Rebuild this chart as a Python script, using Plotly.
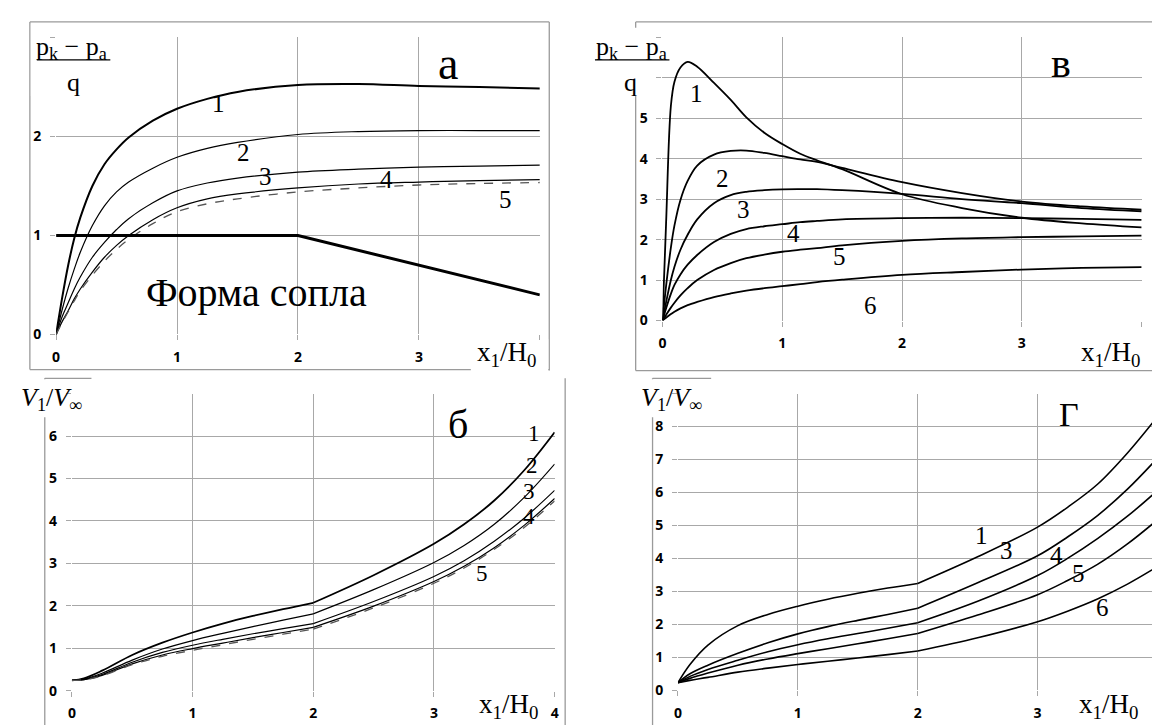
import plotly.graph_objects as go

W, H = 1160, 726

# ---------------- data ----------------
# Panel "а": pressure, 5 curves + nozzle shape
XA = [0, 0.05, 0.1, 0.15, 0.2, 0.3, 0.4, 0.5, 0.6, 0.8, 1, 1.25, 1.5, 2, 2.5, 3, 3.5, 4]
A1 = [0, 0.37, 0.7, 0.97, 1.18, 1.5, 1.72, 1.87, 1.99, 2.16, 2.28, 2.38, 2.45, 2.52, 2.53, 2.51, 2.5, 2.485]
A2 = [0, 0.25, 0.47, 0.66, 0.83, 1.1, 1.3, 1.44, 1.54, 1.68, 1.79, 1.88, 1.94, 2.02, 2.05, 2.06, 2.06, 2.06]
A3 = [0, 0.18, 0.32, 0.46, 0.58, 0.78, 0.93, 1.06, 1.17, 1.33, 1.45, 1.53, 1.58, 1.64, 1.67, 1.69, 1.70, 1.71]
A4 = [0, 0.13, 0.24, 0.36, 0.46, 0.63, 0.78, 0.9, 1.0, 1.16, 1.28, 1.37, 1.42, 1.48, 1.52, 1.54, 1.555, 1.565]
A5 = [0, 0.12, 0.23, 0.34, 0.44, 0.6, 0.74, 0.86, 0.96, 1.12, 1.24, 1.32, 1.37, 1.44, 1.48, 1.51, 1.525, 1.535]
NOZZLE_X = [0, 2, 4]
NOZZLE_Y = [1, 1, 0.4]

# Panel "в": pressure, 6 curves
XV = [0, 0.03, 0.07, 0.1, 0.15, 0.21, 0.29, 0.43, 0.57, 0.7, 0.85, 1.0, 1.15, 1.29, 1.5, 2, 2.5, 3, 3.5, 4]
V1 = [0, 2.4, 5.3, 5.9, 6.25, 6.39, 6.27, 5.87, 5.45, 5.02, 4.64, 4.36, 4.12, 3.96, 3.74, 3.12, 2.78, 2.54, 2.4, 2.3]
V2 = [0, 0.85, 1.8, 2.35, 2.98, 3.45, 3.83, 4.1, 4.19, 4.2, 4.14, 4.06, 3.98, 3.92, 3.77, 3.42, 3.15, 2.94, 2.82, 2.74]
V3 = [0, 0.45, 1.0, 1.33, 1.75, 2.12, 2.5, 2.9, 3.1, 3.18, 3.22, 3.24, 3.245, 3.245, 3.22, 3.13, 3.0, 2.9, 2.78, 2.7]
V4 = [0, 0.3, 0.66, 0.88, 1.14, 1.38, 1.62, 1.94, 2.14, 2.26, 2.33, 2.38, 2.43, 2.46, 2.5, 2.53, 2.54, 2.53, 2.51, 2.485]
V5 = [0, 0.14, 0.32, 0.44, 0.62, 0.8, 1.0, 1.25, 1.42, 1.54, 1.63, 1.7, 1.75, 1.79, 1.86, 1.97, 2.03, 2.06, 2.08, 2.1]
V6 = [0, 0.07, 0.16, 0.22, 0.3, 0.38, 0.46, 0.58, 0.67, 0.74, 0.8, 0.85, 0.9, 0.95, 1.01, 1.13, 1.2, 1.26, 1.3, 1.32]

# Panel "б": velocity, 5 curves (two segments, kink at x=2)
XB1 = [0, 0.1, 0.25, 0.5, 0.75, 1, 1.25, 1.5, 1.75, 2]
XB2 = [2, 2.5, 3, 3.25, 3.5, 3.75, 4]
B1a = [0.24, 0.29, 0.47, 0.84, 1.13, 1.37, 1.58, 1.76, 1.92, 2.07]
B1b = [2.07, 2.72, 3.46, 3.92, 4.48, 5.2, 6.09]
B2a = [0.24, 0.27, 0.41, 0.72, 0.98, 1.18, 1.35, 1.51, 1.66, 1.81]
B2b = [1.81, 2.38, 3.02, 3.42, 3.92, 4.56, 5.34]
B3a = [0.24, 0.26, 0.38, 0.67, 0.9, 1.07, 1.21, 1.34, 1.46, 1.58]
B3b = [1.58, 2.1, 2.69, 3.06, 3.52, 4.07, 4.72]
B4a = [0.24, 0.26, 0.36, 0.63, 0.84, 0.99, 1.12, 1.25, 1.37, 1.49]
B4b = [1.49, 1.99, 2.57, 2.93, 3.37, 3.9, 4.53]
B5a = [0.24, 0.255, 0.35, 0.61, 0.81, 0.95, 1.08, 1.21, 1.33, 1.45]
B5b = [1.45, 1.95, 2.53, 2.89, 3.33, 3.85, 4.47]

# Panel "Г": velocity, 5 curves (two segments, kink at x=2)
XG1 = [0, 0.1, 0.25, 0.5, 0.75, 1, 1.25, 1.5, 1.75, 2]
XG2 = [2, 2.5, 3, 3.25, 3.5, 3.75, 4]
G1a = [0.23, 0.78, 1.37, 1.96, 2.3, 2.55, 2.76, 2.94, 3.1, 3.24]
G1b = [3.24, 4.05, 4.95, 5.55, 6.25, 7.2, 8.3]
G3a = [0.23, 0.5, 0.76, 1.12, 1.44, 1.71, 1.93, 2.12, 2.3, 2.49]
G3b = [2.49, 3.26, 4.08, 4.65, 5.3, 6.1, 7.04]
G4a = [0.23, 0.42, 0.63, 0.91, 1.17, 1.38, 1.56, 1.72, 1.88, 2.05]
G4b = [2.05, 2.7, 3.48, 4.0, 4.6, 5.28, 6.06]
G5a = [0.23, 0.36, 0.52, 0.76, 0.95, 1.11, 1.26, 1.41, 1.56, 1.72]
G5b = [1.72, 2.28, 2.9, 3.33, 3.82, 4.44, 5.17]
G6a = [0.23, 0.3, 0.39, 0.55, 0.67, 0.78, 0.88, 0.98, 1.08, 1.19]
G6b = [1.19, 1.59, 2.08, 2.4, 2.77, 3.22, 3.75]

# curve labels (text, x, y) in data units
LAB_A = [("1", 1.34, 2.33), ("2", 1.55, 1.84), ("3", 1.73, 1.6), ("4", 2.73, 1.57), ("5", 3.72, 1.36)]
LAB_V = [("1", 0.28, 5.62), ("2", 0.5, 3.5), ("3", 0.68, 2.74), ("4", 1.09, 2.14), ("5", 1.48, 1.58), ("6", 1.74, 0.38)]
LAB_B = [("1", 3.83, 6.05), ("2", 3.81, 5.3), ("3", 3.79, 4.7), ("4", 3.79, 4.1), ("5", 3.40, 2.77)]
LAB_G = [("1", 2.53, 4.68), ("3", 2.74, 4.24), ("4", 3.16, 4.09), ("5", 3.34, 3.55), ("6", 3.54, 2.52)]

# ---------------- layout geometry (pixels) ----------------
# plot areas: (x_left, x_right, y_top, y_bottom)
PA = (44.4, 531.5, 20.0, 325.0)
PV = (655.0, 1137.5, 19.7, 310.7)
PB = (60.3, 546.4, 385.7, 690.7)
PG = (670.6, 1153.4, 385.7, 690.3)

def px(x):
    return x / W

def py(y):
    return 1 - y / H

SERIF = "Liberation Serif"
GRID = "#a8a8a8"
FRAME = "#9a9a9a"

fig = go.Figure()

def add_line(xs, ys, xa, ya, width=1.3, color="black", dash="solid", shape="spline"):
    fig.add_trace(go.Scatter(x=xs, y=ys, mode="lines", xaxis=xa, yaxis=ya,
                             line=dict(color=color, width=width, dash=dash, shape=shape, smoothing=1.0),
                             showlegend=False, hoverinfo="skip"))

# panel а
add_line(XA, A1, "x", "y", 2.0)
add_line(XA, A2, "x", "y", 1.2)
add_line(XA, A3, "x", "y", 1.2)
add_line(XA, A4, "x", "y", 1.2)
add_line(XA, A5, "x", "y", 1.3, "#555555", "dash")
add_line(NOZZLE_X, NOZZLE_Y, "x", "y", 3.0, shape="linear")

# panel в
for ys in (V1, V2, V3, V4, V5, V6):
    add_line(XV, ys, "x2", "y2", 1.8)

# panel б
for (a, b, w, c, d) in ((B1a, B1b, 1.8, "black", "solid"), (B2a, B2b, 1.2, "black", "solid"),
                         (B3a, B3b, 1.2, "black", "solid"), (B4a, B4b, 1.2, "black", "solid"),
                         (B5a, B5b, 1.3, "#555555", "dash")):
    add_line(XB1, a, "x3", "y3", w, c, d)
    add_line(XB2, b, "x3", "y3", w, c, d)

# panel Г
for (a, b) in ((G1a, G1b), (G3a, G3b), (G4a, G4b), (G5a, G5b), (G6a, G6b)):
    add_line(XG1, a, "x4", "y4", 1.6)
    add_line(XG2, b, "x4", "y4", 1.6)

tickfont = dict(family="Open Sans", size=14, color="black")

def xaxis(p, anchor, show4):
    return dict(domain=[px(p[0]), px(p[1])], range=[0, 4], anchor=anchor,
                tickvals=[0, 1, 2, 3, 4],
                ticktext=["<b>0</b>", "<b>1</b>", "<b>2</b>", "<b>3</b>", "<b>4</b>" if show4 else " "],
                showgrid=True, gridcolor=GRID, gridwidth=1.3, zeroline=False, showline=False,
                ticks="outside", ticklen=5, tickcolor=GRID, tickwidth=1.3, tickfont=tickfont,
                ticklabelstandoff=5, fixedrange=True)

def yaxis(p, anchor, top, shown):
    vals = list(range(0, top + 1))
    txt = ["<b>%d</b>" % v if v <= shown else " " for v in vals]
    return dict(domain=[py(p[3]), py(p[2])], range=[0, top], anchor=anchor,
                tickvals=vals, ticktext=txt,
                showgrid=True, gridcolor=GRID, gridwidth=1.3, zeroline=False, showline=False,
                ticks="outside", ticklen=5, tickcolor=GRID, tickwidth=1.3, tickfont=tickfont,
                ticklabelstandoff=6, fixedrange=True)

shapes = []

def seg(x0, y0, x1, y1, color=FRAME, width=1.3, layer="below"):
    shapes.append(dict(type="line", xref="paper", yref="paper", x0=px(x0), x1=px(x1), y0=py(y0), y1=py(y1),
                       line=dict(color=color, width=width), layer=layer))

# chart-area frames (partly hidden in the original by the other panels)
seg(18, 4, 541, 4); seg(18, 4, 18, 361); seg(541, 4, 541, 362); seg(18, 361, 541, 361)
seg(628, 4, 1150, 4); seg(628, 4, 628, 362); seg(1150, 4, 1150, 362); seg(628, 362, 1150, 362)
seg(33, 370, 80, 370); seg(33, 370, 33, 726); seg(557, 370, 557, 726)
seg(645, 370, 704, 370); seg(645, 370, 645, 726)

# white boxes behind axis titles
for (x0, x1, y0, y1) in ((19, 103, 6, 80), (578, 667, 10, 80), (462, 540, 330, 366),
                         (1070, 1146, 330, 360), (0, 80, 371, 410), (628, 704, 371, 410),
                         (462, 538, 694, 726), (1068, 1140, 694, 726)):
    shapes.append(dict(type="rect", xref="paper", yref="paper", x0=px(x0), x1=px(x1), y0=py(y1), y1=py(y0),
                       line=dict(width=0), fillcolor="white", layer="between"))
# fraction bars
seg(25, 43, 99, 43, "black", 1.4, "above")
seg(587, 43, 662, 43, "black", 1.4, "above")

ann = []

def txt(t, x, y, size, xref="paper", yref="paper", xanchor="center", yanchor="middle"):
    ann.append(dict(text=t, x=x, y=y, xref=xref, yref=yref, showarrow=False, xanchor=xanchor, yanchor=yanchor,
                    font=dict(family=SERIF, size=size, color="black"), bgcolor="rgba(0,0,0,0)"))

for (lst, xr, yr, fs) in ((LAB_A, "x", "y", 25), (LAB_V, "x2", "y2", 25), (LAB_B, "x3", "y3", 23), (LAB_G, "x4", "y4", 25)):
    for (t, x, y) in lst:
        txt(t, x, y, fs, xr, yr)

# panel letters
txt("а", 3.24, 2.74, 46, "x", "y")
txt("в", 3.33, 6.35, 42, "x2", "y2")
txt("б", 3.2, 6.28, 40, "x3", "y3")
txt("Г", 3.26, 8.36, 34, "x4", "y4")
txt("Форма сопла", 1.66, 0.42, 40, "x", "y")

# y titles
NUM = "p<sub>k</sub> − p<sub>a</sub>"
txt(NUM, px(60), py(31), 26)
txt("q", px(62), py(66), 26)
txt(NUM, px(624), py(31), 26)
txt("q", px(623), py(66), 26)
VT = "<i>V</i><sub>1</sub>/<i>V</i><sub>∞</sub>"
txt(VT, px(40), py(391), 26)
txt(VT, px(664), py(391), 26)
# x titles
XT = "x<sub>1</sub>/H<sub>0</sub>"
for (cx, cy) in ((498, 345), (1106, 345), (500, 706), (1104, 706)):
    txt(XT, px(cx), py(cy), 27)

fig.update_layout(
    width=W, height=H, margin=dict(l=0, r=0, t=0, b=0),
    paper_bgcolor="white", plot_bgcolor="white",
    xaxis=xaxis(PA, "y", False), yaxis=yaxis(PA, "x", 3, 2),
    xaxis2=xaxis(PV, "y2", False), yaxis2=yaxis(PV, "x2", 7, 5),
    xaxis3=xaxis(PB, "y3", True), yaxis3=yaxis(PB, "x3", 7, 6),
    xaxis4=xaxis(PG, "y4", True), yaxis4=yaxis(PG, "x4", 9, 8),
    shapes=shapes, annotations=ann, showlegend=False,
)

fig.write_html("out.html")
